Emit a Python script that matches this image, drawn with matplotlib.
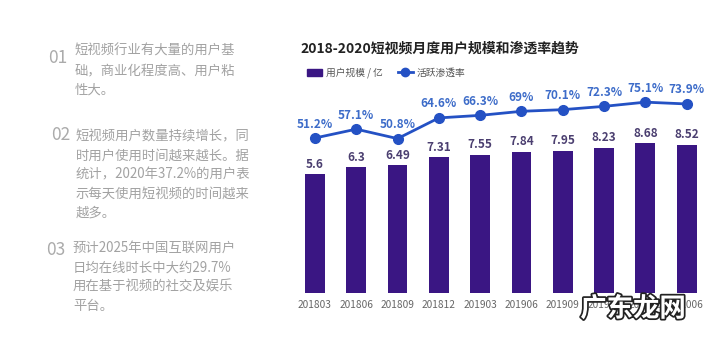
import matplotlib
matplotlib.use('Agg')
import matplotlib.pyplot as plt
import matplotlib.patheffects as pe
from matplotlib.lines import Line2D
from matplotlib.patches import Patch

plt.rcParams['font.family'] = ['Noto Sans CJK SC', 'DejaVu Sans']

# data
months = ['201803', '201806', '201809', '201812', '201903',
          '201906', '201909', '201912', '202003', '202006']
users = [5.6, 6.3, 6.49, 7.31, 7.55, 7.84, 7.95, 8.23, 8.68, 8.52]
rate = [51.2, 57.1, 50.8, 64.6, 66.3, 69, 70.1, 72.3, 75.1, 73.9]
rate_labels = ['51.2%', '57.1%', '50.8%', '64.6%', '66.3%',
               '69%', '70.1%', '72.3%', '75.1%', '73.9%']

notes = [
    ('01', ['短视频行业有大量的用户基', '础，商业化程度高、用户粘', '性大。']),
    ('02', ['短视频用户数量持续增长，同', '时用户使用时间越来越长。据',
            '统计，2020年37.2%的用户表', '示每天使用短视频的时间越来', '越多。']),
    ('03', ['预计2025年中国互联网用户', '日均在线时长中大约29.7%',
            '用在基于视频的社交及娱乐', '平台。']),
]

W, H = 720, 341
fig = plt.figure(figsize=(W / 100, H / 100), dpi=100)

bar_col = '#3a1683'
line_col = '#2451c4'
gray = '#a2a2a2'

# left text column (pixel coords from top-left)
num_pos = [(48, 58), (51, 135), (46, 250)]
text_pos = [(75, 51), (76, 136), (73, 248)]
for (num, lines), (nx, ny), (tx, ty) in zip(notes, num_pos, text_pos):
    fig.text(nx / W, 1 - ny / H, num, fontsize=12.5, color='#ababab', va='center', ha='left')
    for i, ln in enumerate(lines):
        fig.text(tx / W, 1 - (ty + i * 19.2) / H, ln, fontsize=9.6, color=gray,
                 va='center', ha='left')

# chart: bars rise from a baseline below zero, as in the source image
base = -6.2
ax = fig.add_axes([294.3 / W, 48 / H, 413 / W, 203 / H])
x = list(range(len(months)))
ax.bar(x, [u - base for u in users], bottom=base, width=0.48, color=bar_col, zorder=2)
ax.set_xlim(-0.5, len(months) - 0.5)
ax.set_ylim(base, 13.98)
for xi, v in zip(x, users):
    ax.text(xi, v + 0.35, f'{v:g}', ha='center', va='bottom', fontsize=8.5,
            color='#4b3f70', fontweight='bold')
ax.set_xticks(x)
ax.set_xticklabels(months, fontsize=7.3, color='#666666')
ax.tick_params(axis='x', length=0, pad=5)
ax.set_yticks([])
for s in ax.spines.values():
    s.set_visible(False)

ax2 = ax.twinx()
ax2.plot(x, rate, color=line_col, lw=2, marker='o', ms=7, zorder=3)
ax2.set_ylim(-52.1, 83.2)
for xi, v, lab in zip(x, rate, rate_labels):
    ax2.text(xi, v + 5, lab, ha='center', va='bottom', fontsize=8.5,
             color='#3d6cc9', fontweight='bold')
ax2.set_yticks([])
for s in ax2.spines.values():
    s.set_visible(False)

# title and legend
fig.text(300 / W, 1 - 49 / H, '2018-2020短视频月度用户规模和渗透率趋势', fontsize=10,
         fontweight='bold', color='#222222', va='center', ha='left')
handles = [Patch(color=bar_col, label='用户规模 / 亿'),
           Line2D([0], [0], color=line_col, lw=2, marker='o', ms=6, label='活跃渗透率')]
fig.legend(handles=handles, loc='center left', bbox_to_anchor=(298 / W, 1 - 73 / H),
           ncol=2, frameon=False, fontsize=7, handlelength=1.6, handleheight=0.8,
           columnspacing=1.5, handletextpad=0.4, labelcolor='#555555')

# watermark
fig.text(633 / W, 1 - 309 / H, '广东龙网', fontsize=19, color='white', ha='center',
         va='center', fontweight='bold', zorder=10,
         path_effects=[pe.withStroke(linewidth=2.5, foreground='#222222')])

fig.savefig('out.png', dpi=100, facecolor='white')
